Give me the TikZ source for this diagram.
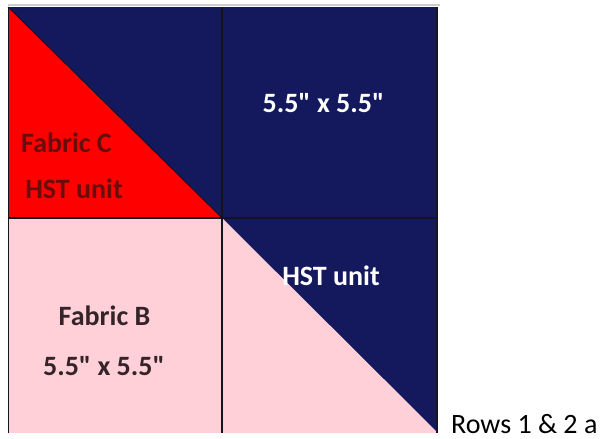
\documentclass[tikz,border=0pt]{standalone}
\usepackage{fontspec}
\setmainfont{Carlito}[Ligatures=TeXOff]
\usepackage{tikz}
\usetikzlibrary{calc}
\definecolor{navyq}{RGB}{20,25,94}
\definecolor{redq}{RGB}{255,0,0}
\definecolor{pinkq}{RGB}{255,208,216}
\definecolor{darkredq}{RGB}{105,12,12}
\definecolor{darkq}{RGB}{52,36,42}
\definecolor{seamq}{RGB}{22,18,30}

\begin{document}
\begin{tikzpicture}[x=1pt,y=-1pt,
  seam/.style={line width=1.3pt,color=seamq},
  lbl/.style={font=\fontsize{28}{30}\selectfont\bfseries,inner sep=0pt,anchor=base}]
\useasboundingbox (0,0) rectangle (606,439);
\draw[line width=1.5pt,color=gray!40] (8,5) -- (440,5);
\fill[navyq] (8,7) rectangle (438,433);
\fill[pinkq] (8,218) rectangle (222,433);
\fill[redq] (8,7) -- (8,218) -- (222,218) -- cycle;
\fill[pinkq] (222,218) -- (222,433) -- (438,433) -- cycle;
\draw[line width=0.8pt,color=seamq] (8,7) -- (222,218);
\draw[seam] (8.6,7) -- (8.6,433);
\draw[seam] (222,7) -- (222,433);
\draw[seam] (8,218) -- (438,218);
\draw[line width=2pt,color=seamq!80!navyq] (437,7) -- (437,433);
\node[lbl,text=white] (sizetr) at (323.5,112) {5.5" x 5.5"};
\node[lbl,text=white] (hstbr) at (331,285) {HST unit};
\node[lbl,text=darkredq] (fabc) at (66.5,152) {Fabric C};
\node[lbl,text=darkredq] (hsttl) at (74,198) {HST unit};
\node[lbl,text=darkq] (fabb) at (104.5,325) {Fabric B};
\node[lbl,text=darkq] (sizebl) at (104,375) {5.5" x 5.5"};
\node[font=\fontsize{28}{30}\selectfont,inner sep=0pt,anchor=base west] (rows) at (451,433) {Rows 1 \& 2 a};
\end{tikzpicture}
\end{document}
